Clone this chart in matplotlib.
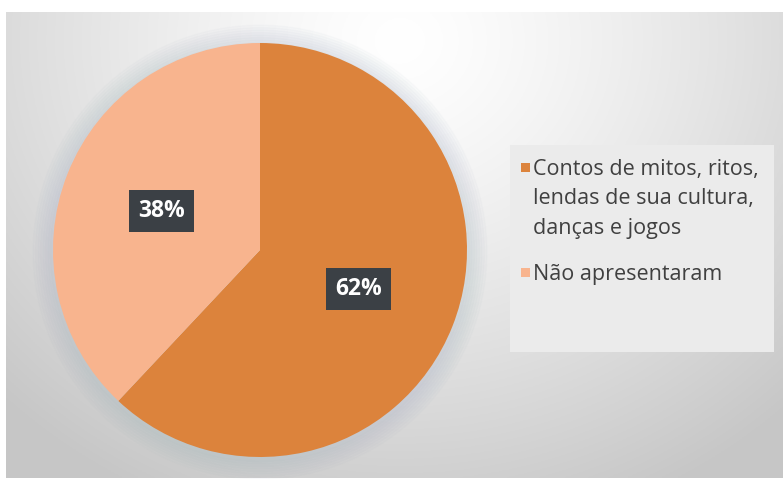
import numpy as np
import matplotlib
matplotlib.use("Agg")
import matplotlib.pyplot as plt
from matplotlib.patches import Rectangle, Circle

labels = ["Contos de mitos, ritos,\nlendas de sua cultura,\ndanças e jogos", "Não apresentaram"]
values = [62, 38]
colors = ["#DC833C", "#F8B48E"]

W, H = 783, 479
fig = plt.figure(figsize=(W / 100, H / 100), dpi=100)
fig.patch.set_facecolor("white")

# chart area background with radial gradient
bx0, by0, bx1, by1 = 6, 12, 783, 478
bg = fig.add_axes([bx0 / W, 1 - by1 / H, (bx1 - bx0) / W, (by1 - by0) / H])
bg.set_axis_off()
xx, yy = np.meshgrid(np.linspace(bx0, bx1, 400), np.linspace(by0, by1, 240))
d = np.sqrt(((xx - 400) / 520) ** 2 + ((yy - 40) / 470) ** 2)
v = np.clip(1.0 - 0.2 * d ** 1.3, 0.78, 1.0)
bg.imshow(np.dstack([v, v, v]), extent=[0, 1, 0, 1], aspect="auto", origin="upper")
bg.set_xlim(0, 1)
bg.set_ylim(0, 1)

# legend box
lx0, ly0, lx1, ly1 = 510, 145, 774, 352
lb = fig.add_axes([lx0 / W, 1 - ly1 / H, (lx1 - lx0) / W, (ly1 - ly0) / H])
lb.set_axis_off()
lb.add_patch(Rectangle((0, 0), 1, 1, transform=lb.transAxes, color="#ebebeb", zorder=0))

# pie
cx, cy, r = 260, 250, 207
ax = fig.add_axes([(cx - r) / W, 1 - (cy + r) / H, 2 * r / W, 2 * r / H])
ax.set_axis_off()
# soft shadow
for k in range(8):
    ax.add_patch(Circle((0.0, -0.01), 1.0 + 0.012 * (8 - k), color="#9fb0c0", alpha=0.035, zorder=0, clip_on=False))
wedges, _t, autotexts = ax.pie(values, colors=colors, startangle=90, counterclock=False,
                                autopct="%1.0f%%", pctdistance=0.51, radius=1.0,
                                wedgeprops=dict(linewidth=0))
for t in autotexts:
    t.set_color("white")
    t.set_fontsize(16.5)
    t.set_fontweight("bold")
    t.set_fontfamily("Open Sans")
    t.set_bbox(dict(boxstyle="square,pad=0.4", facecolor="#3b4045", edgecolor="none"))
ax.set_xlim(-1, 1)
ax.set_ylim(-1, 1)
ax.set_aspect("auto")

# legend entries
entries_y = [167, 272]
for lab, col, y in zip(labels, colors, entries_y):
    fig.patches.append(Rectangle((521 / W, 1 - (y + 5) / H), 9 / W, 9 / H, transform=fig.transFigure,
                                 facecolor=col, edgecolor="none", zorder=5))
    fig.text(533 / W, 1 - (y - 8) / H, lab, ha="left", va="top", fontsize=15.5,
             color="#404040", family="Open Sans", linespacing=1.52)

fig.savefig("out.png", dpi=100)
